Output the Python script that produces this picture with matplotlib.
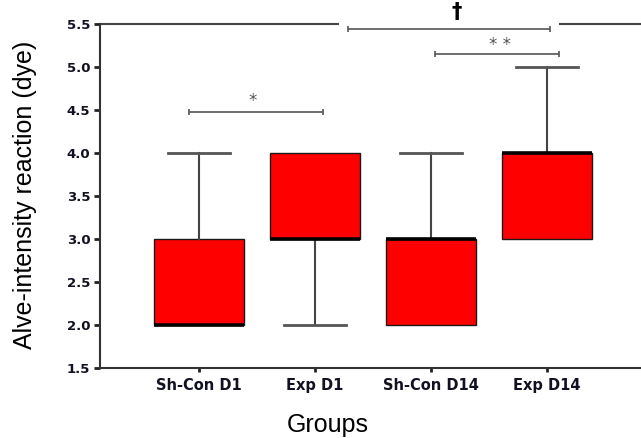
import matplotlib
matplotlib.use("Agg")
import matplotlib.pyplot as plt

# box statistics
groups = ["Sh-Con D1", "Exp D1", "Sh-Con D14", "Exp D14"]
whis_lo = [2.0, 2.0, 2.0, 3.0]
q1 = [2.0, 3.0, 2.0, 3.0]
medians = [2.0, 3.0, 3.0, 4.0]
q3 = [3.0, 4.0, 3.0, 4.0]
whis_hi = [4.0, 4.0, 4.0, 5.0]

y_ticks = [1.5, 2.0, 2.5, 3.0, 3.5, 4.0, 4.5, 5.0, 5.5]

# significance brackets: (x start, x end, y, label, label x, label y)
brackets = [
    (-0.086, 1.069, 4.474, "*", 0.466, 4.60),
    (1.284, 3.026, 5.44, "\u2020", 2.224, 5.52),
    (2.034, 3.103, 5.15, "* *", 2.595, 5.25),
]
top_gap = (1.207, 3.103)

fig = plt.figure(figsize=(6.41, 4.38), dpi=100)
ax = fig.add_axes([100 / 641, 70 / 438, 1 - 100 / 641, 344 / 438])

stats = []
for name, lo, a, m, b, hi in zip(groups, whis_lo, q1, medians, q3, whis_hi):
    stats.append({"label": name, "whislo": lo, "q1": a, "med": m, "q3": b, "whishi": hi})

parts = ax.bxp(stats, positions=range(len(groups)), widths=0.77, capwidths=0.535,
               showfliers=False, patch_artist=True,
               boxprops=dict(facecolor="#ff0000", edgecolor="#1a1a1a", linewidth=1.0),
               medianprops=dict(color="black", linewidth=2.6),
               whiskerprops=dict(color="#444444", linewidth=1.5),
               capprops=dict(color="#555555", linewidth=2.0))

# caps of zero-length whiskers sit on the box edge; the reference shows none
for i, s in enumerate(stats):
    lo_cap, hi_cap = parts["caps"][2 * i], parts["caps"][2 * i + 1]
    if s["whislo"] == s["q1"]:
        lo_cap.set_visible(False)
    if s["whishi"] == s["q3"]:
        hi_cap.set_visible(False)

ax.set_xlim(-0.853, 3.81)
ax.set_ylim(1.5, 5.5)
ax.set_yticks(y_ticks)
ax.set_yticklabels([f"{v:.1f}" for v in y_ticks], fontfamily="DejaVu Sans",
                   fontweight="bold", fontsize=9.5, color="#111122")
ax.set_xticks(range(len(groups)))
ax.set_xticklabels(groups, fontfamily="DejaVu Sans", fontweight="bold",
                   fontsize=10.5, color="#111122")
ax.tick_params(axis="y", length=4, width=2, direction="out", pad=3, color="#222222")
ax.tick_params(axis="x", length=3, width=2, direction="out", pad=4, color="#222222")

for side in ["top", "right"]:
    ax.spines[side].set_visible(False)
for side in ["left", "bottom"]:
    ax.spines[side].set_linewidth(1.5)
    ax.spines[side].set_color("#333333")

# broken top border line
ax.hlines(5.5, ax.get_xlim()[0], top_gap[0], color="#444444", lw=1.5, clip_on=False)
ax.hlines(5.5, top_gap[1], ax.get_xlim()[1], color="#444444", lw=1.5, clip_on=False)

for x0, x1, y, lab, lx, ly in brackets:
    ax.hlines(y, x0, x1, color="#555555", lw=1.2, clip_on=False)
    ax.vlines([x0, x1], y - 0.035, y + 0.035, color="#555555", lw=1.2, clip_on=False)
    if lab == "\u2020":
        ax.text(lx, ly, lab, ha="center", va="bottom", fontsize=15,
                fontweight="bold", color="black", fontfamily="DejaVu Sans")
    else:
        ax.text(lx, ly, lab, ha="center", va="center", fontsize=12,
                color="#555555", fontfamily="DejaVu Sans")

fig.text(25 / 641, 1 - 195 / 438, "Alve-intensity reaction (dye)", rotation=90,
         ha="center", va="center", fontsize=18, fontfamily="Liberation Sans")
fig.text(328 / 641, 1 - 425 / 438, "Groups", ha="center", va="center",
         fontsize=18, fontfamily="Liberation Sans")

fig.savefig("out.png", dpi=100)
